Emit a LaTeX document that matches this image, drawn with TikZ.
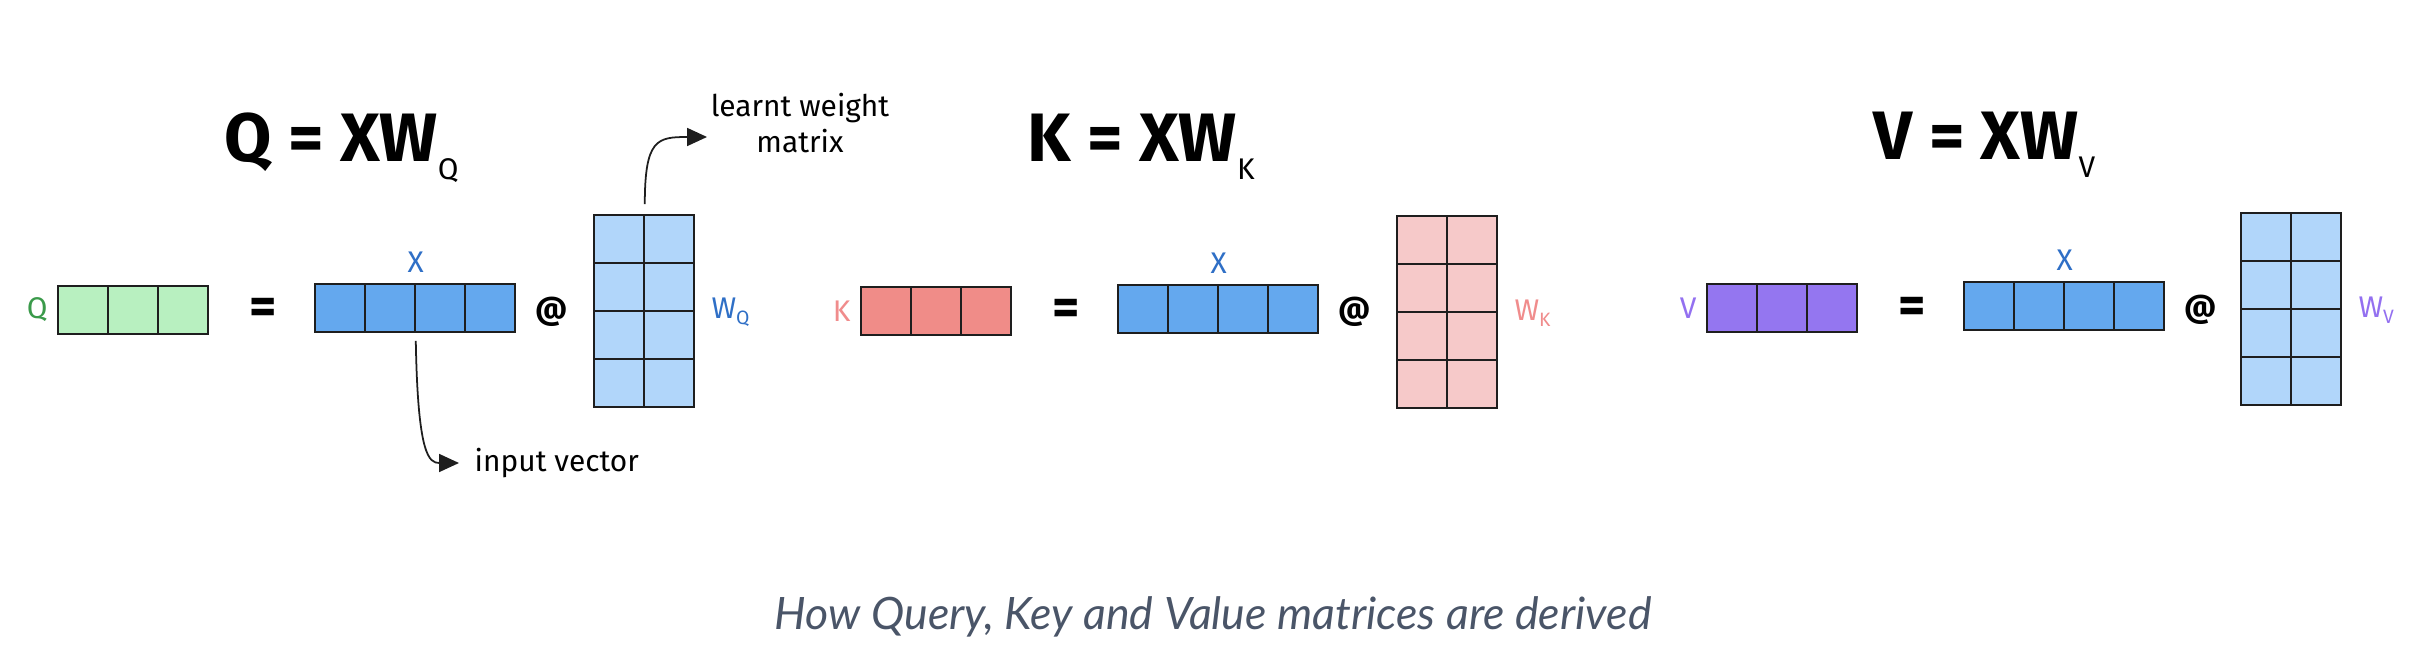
\documentclass[tikz,border=0pt]{standalone}
\usepackage{fontspec}
\setmainfont{Fira Sans}
\newfontfamily\capfont{Lato}
\usetikzlibrary{positioning,arrows.meta}

\definecolor{ink}{HTML}{1E1E1E}
\definecolor{qfill}{HTML}{B8F0C0}
\definecolor{qtext}{HTML}{3A9A4A}
\definecolor{xfill}{HTML}{64A8EE}
\definecolor{xtext}{HTML}{2F6FC6}
\definecolor{wblue}{HTML}{B1D6FA}
\definecolor{kfill}{HTML}{F08C88}
\definecolor{ktext}{HTML}{F08C8C}
\definecolor{wpink}{HTML}{F6C9C9}
\definecolor{vfill}{HTML}{9476F0}
\definecolor{vtext}{HTML}{9370F0}
\definecolor{capgray}{HTML}{4A5568}

\tikzstyle{cell} = [rectangle, draw=ink, line width=0.45pt, minimum width=5mm, minimum height=4.8mm, inner sep=0pt]
\tikzstyle{tag} = [inner sep=0pt, font=\fontsize{8.5}{10.5}\selectfont]
\tikzstyle{title} = [anchor=base west, inner sep=0pt, font=\fontsize{19.5}{22}\selectfont\bfseries]
\tikzstyle{op} = [inner sep=0pt, font=\fontsize{15}{18}\selectfont\bfseries]
\tikzstyle{atsign} = [inner sep=0pt, font=\fontsize{9}{11}\selectfont\bfseries]
\tikzstyle{arrow} = [draw=ink, line width=0.5pt, -{Triangle[length=2mm, width=1.8mm]}]

\newcommand{\titlesub}[1]{\raisebox{-1.8mm}{\mdseries\fontsize{8.5}{9}\selectfont #1}}
\newcommand{\labelsub}[1]{\raisebox{-0.6mm}{\fontsize{5.5}{6}\selectfont #1}}

\begin{document}
\begin{tikzpicture}[x=0.1mm, y=-0.1mm]
	\useasboundingbox (0,0) rectangle (2412,670);

	% query
	\node[title] (tq) at (224,162) {Q = XW\titlesub{Q}};
	\foreach \i in {1,2,3} \node[cell, fill=qfill] (q\i) at ({33+50*\i},310) {};
	\foreach \i in {1,...,4} \node[cell, fill=xfill] (xq\i) at ({290+50*\i},308) {};
	\foreach \r in {1,...,4} \foreach \c in {1,2} \node[cell, fill=wblue] (wq\r\c) at ({569+50*\c},{191+48*\r}) {};
	\node[tag, text=qtext, left=0.9mm of q1] (lq) {Q};
	\node[op] (eqq) at (263,311) {=};
	\node[atsign] (atq) at (552,312) {@};
	\node[tag, text=xtext, above=1mm of xq2.north east] (lxq) {X};
	\node[tag, text=xtext, right=1.6mm of wq22.south east] (lwq) {W\labelsub{Q}};
	\node[tag, align=center] (learnt) at (800,123) {learnt weight\\matrix};
	\node[tag, anchor=west] (input) at (474,463) {input vector};
	\draw[arrow] ([yshift=1mm]wq11.north east) .. controls +(0,-65) and +(-50,0) .. ([xshift=-0.3mm, yshift=-1.4mm]learnt.west);
	\draw[arrow] ([yshift=-0.8mm]xq2.south east) .. controls +(2,115) and +(-30,0) .. ([xshift=-1.5mm]input.west);

	% key
	\begin{scope}[xshift=80.3mm]
		\node[title] (tk) at (224,162) {K = XW\titlesub{K}};
		\foreach \i in {1,2,3} \node[cell, fill=kfill] (k\i) at ({33+50*\i},311) {};
		\foreach \i in {1,...,4} \node[cell, fill=xfill] (xk\i) at ({290+50*\i},309) {};
		\foreach \r in {1,...,4} \foreach \c in {1,2} \node[cell, fill=wpink] (wk\r\c) at ({569+50*\c},{192+48*\r}) {};
		\node[tag, text=ktext, left=0.9mm of k1] (lk) {K};
		\node[op] (eqk) at (263,312) {=};
		\node[atsign] (atk) at (552,312) {@};
		\node[tag, text=xtext, above=1mm of xk2.north east] (lxk) {X};
		\node[tag, text=ktext, right=1.6mm of wk22.south east] (lwk) {W\labelsub{K}};
	\end{scope}

	% value
	\begin{scope}[xshift=164.9mm]
		\node[title] (tv) at (224,160) {V = XW\titlesub{V}};
		\foreach \i in {1,2,3} \node[cell, fill=vfill] (v\i) at ({33+50*\i},308) {};
		\foreach \i in {1,...,4} \node[cell, fill=xfill] (xv\i) at ({290+50*\i},306) {};
		\foreach \r in {1,...,4} \foreach \c in {1,2} \node[cell, fill=wblue] (wv\r\c) at ({567+50*\c},{189+48*\r}) {};
		\node[tag, text=vtext, left=0.9mm of v1] (lv) {V};
		\node[op] (eqv) at (263,310) {=};
		\node[atsign] (atv) at (552,310) {@};
		\node[tag, text=xtext, above=1mm of xv2.north east] (lxv) {X};
		\node[tag, text=vtext, right=1.6mm of wv22.south east] (lwv) {W\labelsub{V}};
	\end{scope}

	\node[font=\capfont\itshape\fontsize{12.7}{15}\selectfont, text=capgray] (caption) at (1213,617) {How Query, Key and Value matrices are derived};
\end{tikzpicture}
\end{document}
